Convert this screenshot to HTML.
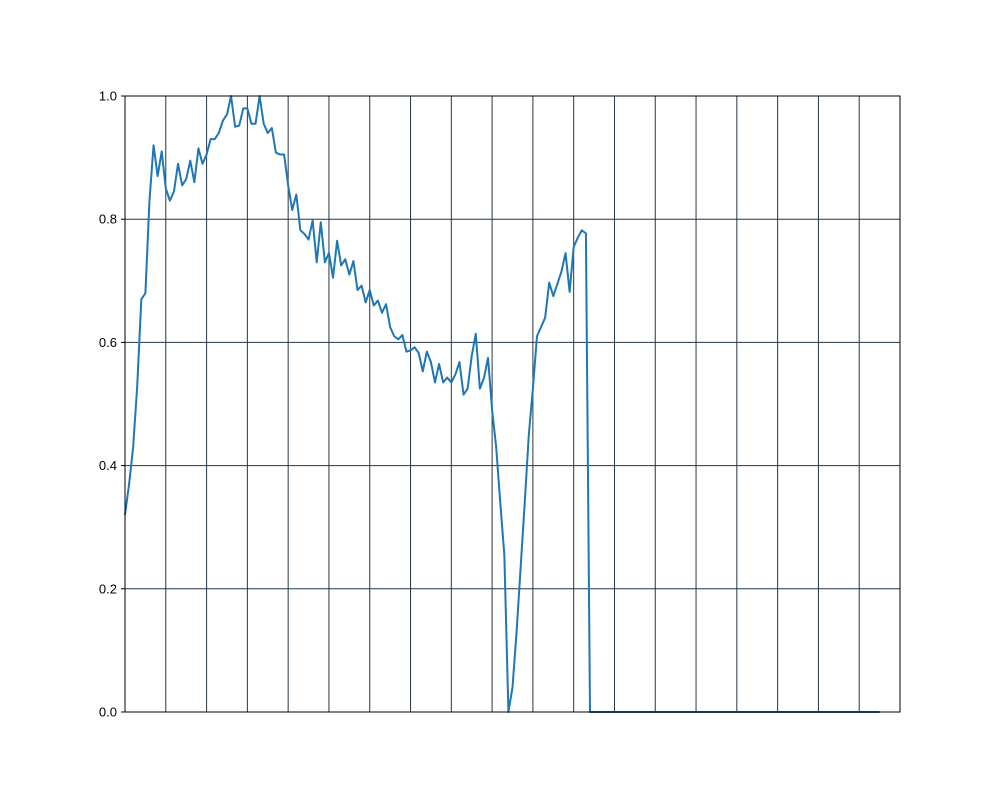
<!DOCTYPE html>
<html><head><meta charset="utf-8"><style>
body{margin:0;background:#fff;font-family:"Liberation Sans",sans-serif;}
svg{display:block}
</style></head><body>
<svg id="chart" width="1000" height="800">
<g id="grid"></g>
<g id="yaxis"></g>
<polyline id="series" fill="none" stroke="#1f77b4" stroke-width="2" stroke-linejoin="round"/>
<rect x="125" y="96" width="775" height="616" fill="none" stroke="#000" stroke-width="1"/>
</svg>
<script>
const values = [0.32,0.37,0.43,0.53,0.67,0.68,0.83,0.92,0.87,0.91,
0.85,0.83,0.845,0.89,0.855,0.865,0.895,0.86,0.915,0.89,
0.905,0.93,0.93,0.94,0.96,0.97,1.0,0.95,0.952,0.98,
0.98,0.955,0.955,1.0,0.955,0.94,0.948,0.908,0.905,0.905,
0.855,0.815,0.84,0.782,0.776,0.767,0.798,0.73,0.795,0.73,
0.745,0.705,0.765,0.725,0.735,0.71,0.732,0.685,0.692,0.665,
0.685,0.66,0.668,0.648,0.662,0.625,0.61,0.605,0.612,0.585,
0.587,0.592,0.583,0.553,0.585,0.568,0.535,0.565,0.535,0.543,
0.535,0.548,0.568,0.515,0.525,0.578,0.614,0.525,0.542,0.575,
0.49,0.43,0.34,0.255,0.0,0.04,0.13,0.235,0.34,0.45,
0.525,0.61,0.625,0.64,0.697,0.675,0.695,0.715,0.745,0.682,
0.755,0.77,0.782,0.777,
0,0,0,0,0,0,0,0,0,0,0,0,0,0,0,0,0,0,0,0,0,0,0,0,0,0,0,0,0,0,0,0,0,0,0,0,
0,0,0,0,0,0,0,0,0,0,0,0,0,0,0,0,0,0,0,0,0,0,0,0,0,0,0,0,0,0,0,0,0,0,0,0];
const yTicks = [0.0,0.2,0.4,0.6,0.8,1.0];
const yTickLabels = ["0.0","0.2","0.4","0.6","0.8","1.0"];
const xGrid = [10,20,30,40,50,60,70,80,90,100,110,120,130,140,150,160,170,180];
const X0=125,X1=900,Y0=712,Y1=96,XMAX=190;
const sx=v=>X0+(X1-X0)*v/XMAX;
const sy=v=>Y0-(Y0-Y1)*v;
const NS="http://www.w3.org/2000/svg";
const grid=document.getElementById('grid'), yax=document.getElementById('yaxis');
xGrid.forEach(v=>{const l=document.createElementNS(NS,'line');
l.setAttribute('x1',sx(v));l.setAttribute('x2',sx(v));l.setAttribute('y1',Y1);l.setAttribute('y2',Y0);
l.setAttribute('stroke','#263645');l.setAttribute('stroke-width','1');


grid.appendChild(l);});
yTicks.forEach((v,i)=>{const l=document.createElementNS(NS,'line');
l.setAttribute('x1',X0);l.setAttribute('x2',X1);l.setAttribute('y1',sy(v));l.setAttribute('y2',sy(v));
l.setAttribute('stroke','#263645');l.setAttribute('stroke-width','1');


grid.appendChild(l);
const t=document.createElementNS(NS,'line');
t.setAttribute('x1',X0-4);t.setAttribute('x2',X0);t.setAttribute('y1',sy(v));t.setAttribute('y2',sy(v));t.setAttribute('stroke','#000');


yax.appendChild(t);
const tx=document.createElementNS(NS,'text');
tx.setAttribute('x',X0-8);tx.setAttribute('y',sy(v)+4.5);tx.setAttribute('text-anchor','end');tx.setAttribute('font-size','13');
tx.textContent=yTickLabels[i];


yax.appendChild(tx);});
document.getElementById('series').setAttribute('points',values.map((v,i)=>sx(i)+','+sy(v)).join(' '));
</script>
</body></html>
